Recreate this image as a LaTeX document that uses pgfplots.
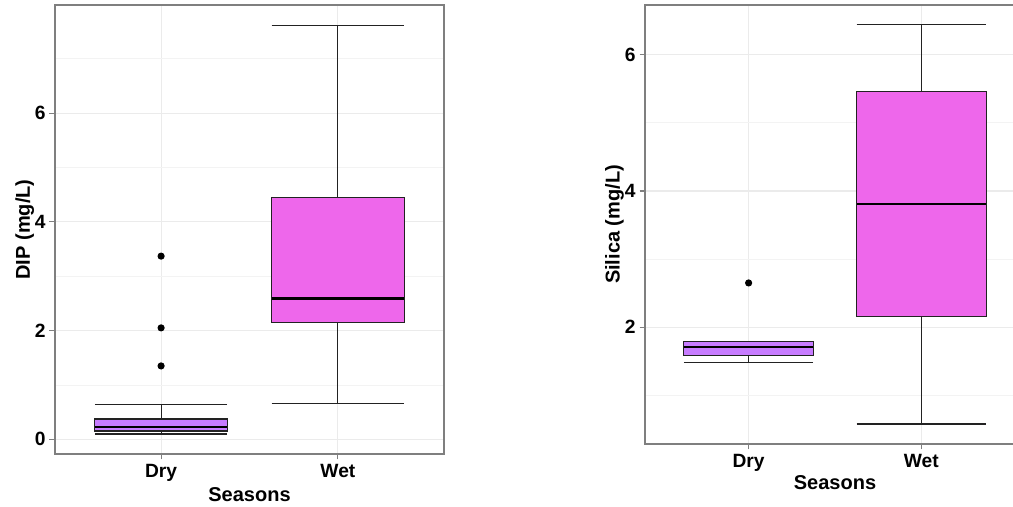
\documentclass[border=0pt]{standalone}
\usepackage{pgfplots}
\pgfplotsset{compat=1.18}
\usepgfplotslibrary{statistics}
\usepackage{fontspec}
\setmainfont{Liberation Sans}
\definecolor{dryc}{HTML}{C77CFF}
\definecolor{wetc}{HTML}{EE67EB}
\definecolor{gridc}{HTML}{EBEBEB}
\definecolor{gridm}{HTML}{F3F3F3}
\definecolor{framec}{HTML}{7F7F7F}
\definecolor{linec}{HTML}{222222}
\pgfplotsset{
  myax/.style={
    scale only axis,
    anchor=south west,
    xmin=0.4, xmax=2.6,
    xtick={1,2}, xticklabels={Dry,Wet},
    xmajorgrids, ymajorgrids, yminorgrids,
    major grid style={draw=gridc, line width=0.55pt},
    minor grid style={draw=gridm, line width=0.35pt},
    axis line style={draw=framec, line width=0.6pt},
    tick style={draw=framec, line width=0.55pt},
    tick align=outside, major tick length=2.75pt, minor tick length=0pt,
    tick pos=left,
    /pgf/number format/assume math mode=true,
    ticklabel style={font=\fontsize{9.6}{11}\selectfont\bfseries, text=black},
    yticklabel style={inner sep=0pt, xshift=-1.75pt},
    xticklabel style={inner sep=0pt, anchor=base, yshift=-8.9pt},
    label style={font=\fontsize{10}{12}\selectfont\bfseries, text=black},
    xlabel={Seasons},
    boxplot/draw direction=y,
    boxplot/every median/.style={draw=black, line width=1.1pt},
  },
  bx/.style={draw=linec, line width=0.55pt, mark=*, mark size=1.5pt, mark options={fill=black, draw=black, solid}},
}
\begin{document}
\begin{tikzpicture}
\path[use as bounding box, clip] (0,0) rectangle (506.5pt,253.5pt);
% ---------------- left panel: DIP ----------------
\begin{axis}[myax,
  at={(27.5pt,26.5pt)}, width=194.5pt, height=224.5pt,
  ymin=-0.27, ymax=7.99,
  ytick={0,2,4,6}, minor ytick={1,3,5,7},
  ylabel={DIP (mg/L)},
  ylabel style={at={(axis description cs:-0.0643,0.5)}, anchor=base},
  xlabel style={at={(axis description cs:0.5,0)}, anchor=base, yshift=-23.6pt},
]
\addplot[bx, fill=dryc, boxplot prepared={draw position=1,
  lower whisker=0.097, lower quartile=0.153, median=0.226,
  upper quartile=0.373, upper whisker=0.643,
  box extend=0.75, whisker extend=0.75}]
  table[row sep=\\, y index=0] {y\\3.37\\2.05\\1.35\\};
\addplot[bx, fill=wetc, boxplot prepared={draw position=2,
  lower whisker=0.667, lower quartile=2.15, median=2.59,
  upper quartile=4.45, upper whisker=7.61,
  box extend=0.75, whisker extend=0.75}]
  coordinates {};
\end{axis}
% ---------------- right panel: Silica ----------------
\begin{axis}[myax,
  at={(322.5pt,31.5pt)}, width=190pt, height=219.5pt,
  ymin=0.286, ymax=6.73,
  ytick={2,4,6}, minor ytick={1,3,5},
  ylabel={Silica (mg/L)},
  ylabel style={at={(axis description cs:-0.0671,0.5)}, anchor=base},
  xlabel style={at={(axis description cs:0.5,0)}, anchor=base, yshift=-23pt},
]
\addplot[bx, fill=dryc, boxplot prepared={draw position=1,
  lower whisker=1.48, lower quartile=1.59, median=1.711,
  upper quartile=1.785, upper whisker=1.785,
  box extend=0.75, whisker extend=0.75}]
  table[row sep=\\, y index=0] {y\\2.65\\};
\addplot[bx, fill=wetc, boxplot prepared={draw position=2,
  lower whisker=0.579, lower quartile=2.155, median=3.81,
  upper quartile=5.46, upper whisker=6.44,
  box extend=0.75, whisker extend=0.75}]
  coordinates {};
\end{axis}
\end{tikzpicture}
\end{document}
